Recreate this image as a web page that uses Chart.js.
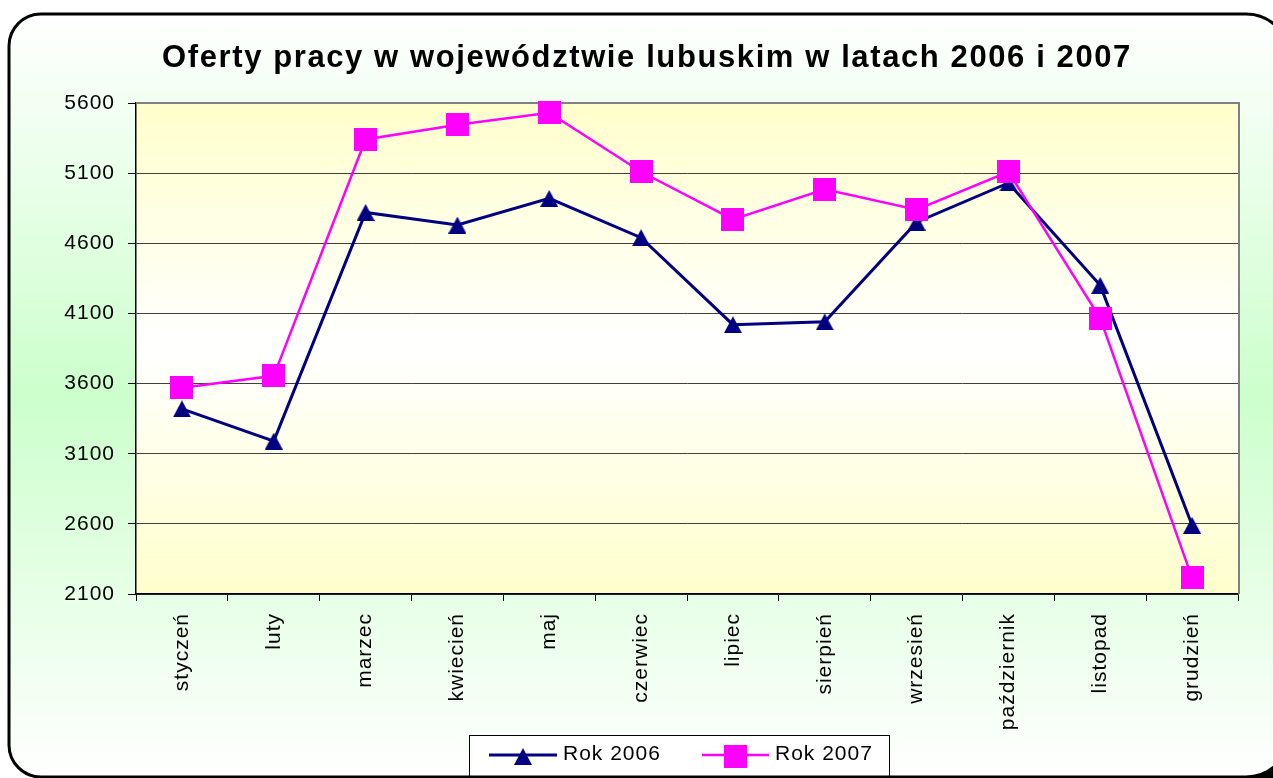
<!DOCTYPE html>
<html><head><meta charset="utf-8">
<script src="https://cdn.jsdelivr.net/npm/chart.js@4.4.0/dist/chart.umd.min.js"></script>
<style>html,body{margin:0;padding:0;background:#fff;overflow:hidden}#wrap{width:1273px;height:778px;position:relative;overflow:hidden}canvas{display:block}</style>
</head><body><div id="wrap"><canvas id="c" width="1273" height="778"></canvas></div>
<script>
const chartTitle = 'Oferty pracy w województwie lubuskim w latach 2006 i 2007';
const months = ['styczeń','luty','marzec','kwiecień','maj','czerwiec','lipiec','sierpień','wrzesień','październik','listopad','grudzień'];
const seriesNames = ['Rok 2006','Rok 2007'];
const rok2006 = [3420, 3190, 4820, 4730, 4920, 4640, 4020, 4040, 4750, 5030, 4300, 2590];
const rok2007 = [3570, 3655, 5340, 5445, 5530, 5110, 4770, 4985, 4840, 5110, 4065, 2215];
const yTickMin = 2100, yTickMax = 5600, yTickStep = 500;

const FONT = "'Liberation Sans', Arial, sans-serif";
const NAVY = '#000080', MAGENTA = '#FF00FF';

function makeTriangle(w, h, color) {
  const c = document.createElement('canvas');
  c.width = w; c.height = h;
  const g = c.getContext('2d');
  g.fillStyle = color;
  g.beginPath(); g.moveTo(w/2, 0); g.lineTo(w, h); g.lineTo(0, h); g.closePath(); g.fill();
  return c;
}
function makeSquare(s, color) {
  const c = document.createElement('canvas');
  c.width = s; c.height = s;
  const g = c.getContext('2d');
  g.fillStyle = color; g.fillRect(0, 0, s, s);
  return c;
}
const triImg = makeTriangle(18, 17, NAVY);
const sqImg = makeSquare(23, MAGENTA);

// outer frame: left 9, top 14, right just beyond the page, bottom 777
function framePath(ctx) {
  const L = 9, T = 14, R = 1290, B = 777, r = 32, rR = 44;
  ctx.beginPath();
  ctx.moveTo(L + r, T);
  ctx.lineTo(R - rR, T); ctx.arcTo(R, T, R, T + rR, rR);
  ctx.lineTo(R, B - rR); ctx.arcTo(R, B, R - rR, B, rR);
  ctx.lineTo(L + r, B); ctx.arcTo(L, B, L, B - r, r);
  ctx.lineTo(L, T + r); ctx.arcTo(L, T, L + r, T, r);
  ctx.closePath();
}

const deco = {
  id: 'deco',
  beforeDraw(chart) {
    const ctx = chart.ctx, a = chart.chartArea;
    ctx.save();
    ctx.fillStyle = '#fff'; ctx.fillRect(0, 0, chart.width, chart.height);
    // shadow visible at bottom-right corner
    ctx.fillStyle = '#000'; ctx.fillRect(1236, 742, 40, 40);
    const g = ctx.createLinearGradient(0, 14, 0, 777);
    g.addColorStop(0, '#FFFFFF'); g.addColorStop(0.5, '#CCFFCC'); g.addColorStop(1, '#FFFFFF');
    framePath(ctx); ctx.fillStyle = g; ctx.fill();
    const pg = ctx.createLinearGradient(0, a.top, 0, a.bottom);
    pg.addColorStop(0, '#FFFFCC'); pg.addColorStop(0.5, '#FFFFFF'); pg.addColorStop(1, '#FFFFCC');
    ctx.fillStyle = pg; ctx.fillRect(a.left, a.top, a.right - a.left, a.bottom - a.top);
    ctx.restore();
    ctx.letterSpacing = '1px';
  },
  beforeDatasetsDraw(chart) {
    const ctx = chart.ctx, a = chart.chartArea;
    ctx.save();
    ctx.strokeStyle = '#808080'; ctx.lineWidth = 2;
    ctx.beginPath();
    ctx.moveTo(a.left, a.top); ctx.lineTo(a.right + 1, a.top); ctx.lineTo(a.right + 1, a.bottom);
    ctx.stroke();
    ctx.restore();
  },
  afterDraw(chart) {
    const ctx = chart.ctx;
    ctx.save();
    ctx.letterSpacing = '1.6px';
    ctx.fillStyle = '#000';
    ctx.font = 'bold 31px ' + FONT;
    ctx.textAlign = 'center'; ctx.textBaseline = 'alphabetic';
    ctx.fillText(chartTitle, 647, 67);
    ctx.letterSpacing = '1px';
    ctx.fillStyle = '#fff';
    ctx.fillRect(469.5, 735.5, 420, 40);
    ctx.strokeStyle = '#000'; ctx.lineWidth = 1;
    ctx.strokeRect(469.5, 735.5, 420, 45);
    const items = [
      {x0: 489, x1: 557, color: NAVY, w: 3, img: triImg, tx: 563},
      {x0: 702, x1: 769, color: MAGENTA, w: 2.5, img: sqImg, tx: 775}
    ];
    const ly = 755;
    items.forEach((it, i) => {
      ctx.strokeStyle = it.color; ctx.lineWidth = it.w;
      ctx.beginPath(); ctx.moveTo(it.x0, ly); ctx.lineTo(it.x1, ly); ctx.stroke();
      const cx = (it.x0 + it.x1) / 2;
      ctx.drawImage(it.img, Math.round(cx - it.img.width / 2), Math.round(ly - it.img.height / 2 + 1));
      ctx.fillStyle = '#000';
      ctx.font = '21px ' + FONT;
      ctx.textAlign = 'left'; ctx.textBaseline = 'middle';
      ctx.fillText(chart.data.datasets[i].label, it.tx, ly - 1);
    });
    framePath(ctx);
    ctx.lineWidth = 3; ctx.strokeStyle = '#000'; ctx.stroke();
    ctx.restore();
  }
};

new Chart(document.getElementById('c'), {
  type: 'line',
  data: {
    labels: months,
    datasets: [
      {label: seriesNames[0], data: rok2006, borderColor: NAVY, backgroundColor: NAVY, borderWidth: 3,
       pointStyle: triImg, pointRadius: 9, order: 1, clip: false, tension: 0},
      {label: seriesNames[1], data: rok2007, borderColor: MAGENTA, backgroundColor: MAGENTA, borderWidth: 2.5,
       pointStyle: sqImg, pointRadius: 12, order: 0, clip: false, tension: 0}
    ]
  },
  options: {
    responsive: false, animation: false, events: [], devicePixelRatio: 1,
    layout: {padding: {left: 0, top: 103, right: 35, bottom: 0}},
    plugins: {legend: {display: false}, title: {display: false}, tooltip: {enabled: false}},
    scales: {
      x: {
        offset: true,
        grid: {offset: true, drawOnChartArea: false, tickLength: 7, color: '#000'},
        border: {color: '#000', width: 1.5},
        ticks: {autoSkip: false, maxRotation: 90, minRotation: 90, color: '#000', padding: 12,
                font: {family: FONT, size: 21}},
        afterFit: s => { s.height = 184; }
      },
      y: {
        min: yTickMin, max: yTickMax,
        ticks: {stepSize: yTickStep, color: '#000', padding: 13, font: {family: FONT, size: 21},
                callback: v => String(v)},
        grid: {color: '#404040', lineWidth: 1, tickLength: 8, tickColor: '#000'},
        border: {color: '#000', width: 1.5},
        afterFit: s => { s.width = 136; }
      }
    }
  },
  plugins: [deco]
});
</script>
</body></html>
